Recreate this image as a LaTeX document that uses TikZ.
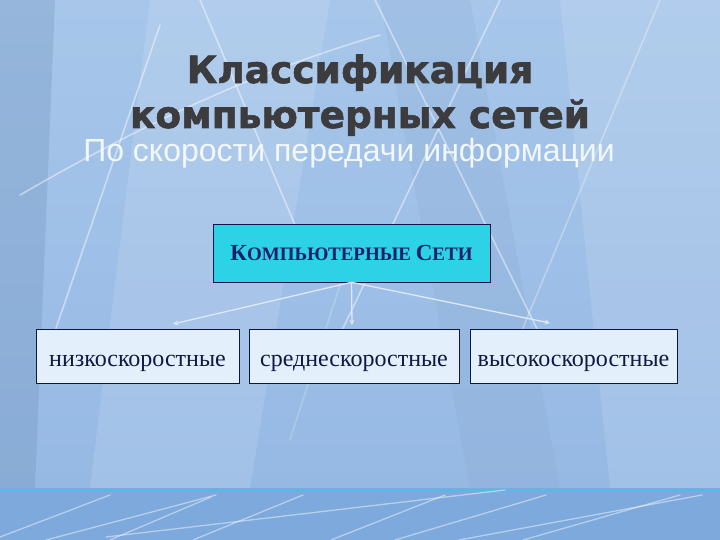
\documentclass[tikz,border=0pt]{standalone}
\usepackage{fontspec}
\setmainfont{Liberation Serif}
\newfontfamily\headfont[FakeBold=1.6]{DejaVu Sans Bold}
\newfontfamily\subheadfont{Liberation Sans}
\usepackage{tikz}
\usetikzlibrary{arrows}

\definecolor{slidetop}{HTML}{A7C6EA}
\definecolor{slidemid}{HTML}{96B9E4}
\definecolor{slideband}{HTML}{7DA9DC}
\definecolor{bandcyan}{HTML}{3CC8E6}
\definecolor{titlegray}{HTML}{3C3C3E}
\definecolor{subwhite}{HTML}{F2F7FC}
\definecolor{netcyan}{HTML}{2DD2E6}
\definecolor{netnavy}{HTML}{16206A}
\definecolor{boxline}{HTML}{0E1648}
\definecolor{boxfill}{HTML}{E3EFFB}
\definecolor{speedtext}{HTML}{111846}
\definecolor{arrowwhite}{HTML}{DDE9F6}

\begin{document}
\begin{tikzpicture}[
    x = 1pt, y = -1pt, % pixel grid of the slide
    > = stealth, % arrow head style
    semithick % line style
]

\tikzstyle{streak}=[white, opacity = .45, line width = 1.6pt, line cap = round]
\tikzstyle{panel}=[white, opacity = .12]
\tikzstyle{title text}=[text = titlegray, inner sep = 0pt, anchor = base,
    font = \headfont\fontsize{37.5}{40}\selectfont]
\tikzstyle{top box}=[
    draw = boxline,
    fill = netcyan,
    text = netnavy,
    minimum width = 277pt,
    minimum height = 58pt,
    inner sep = 0pt,
    font = \bfseries\fontsize{19}{22}\selectfont
]
\tikzstyle{speed box}=[
    draw = boxline,
    fill = boxfill,
    text = speedtext,
    line width = .9pt,
    minimum height = 54pt,
    inner sep = 0pt,
    text height = 20pt,
    text depth = 0pt,
    font = \fontsize{24}{27}\selectfont
]
\tikzstyle{link}=[->, draw = arrowwhite, line width = 1.3pt]

% background of the slide
\useasboundingbox (0,0) rectangle (720,540);
\shade[top color = slidetop, bottom color = slidemid] (0,0) rectangle (720,488);
\fill[slideband!80!black, opacity = .25] (0,0) -- (55,0) -- (35,488) -- (0,488) -- cycle;
\fill[panel] (150,0) -- (330,0) -- (250,488) -- (90,488) -- cycle;
\fill[panel] (560,0) -- (720,0) -- (720,488) -- (610,488) -- cycle;
\fill[slidemid!85!black, opacity = .15] (380,0) -- (470,0) -- (560,488) -- (470,488) -- cycle;
\draw[streak] (20,195) .. controls (150,120) and (260,70) .. (380,35);
\draw[streak] (52,340) -- (160,25);
\draw[streak] (200,0) -- (295,225);
\draw[streak] (375,0) -- (545,345);
\draw[streak] (500,0) -- (335,345);
\draw[streak, opacity = .3] (660,0) -- (520,335);
\draw[streak, opacity = .2] (340,285) -- (290,440);

% bottom band
\fill[slideband] (0,488) rectangle (720,540);
\draw[bandcyan, line width = 3pt, opacity = .7] (0,490) -- (720,490);
\foreach \xa/\ya/\xb/\yb in {0/537/110/495, 46/540/216/495, 110/540/211/497,
    193/540/303/495, 106/537/505/490, 331/540/445/495, 395/540/546/495,
    459/540/702/495, 523/540/680/495}
    \draw[streak, line width = 1.3pt] (\xa,\ya) -- (\xb,\yb);

% headings
\node[title text] (Title Top) at (360,83) {Классификация};
\node[title text] (Title Bottom) at (360,128) {компьютерных сетей};
\node[text = subwhite, inner sep = 0pt, anchor = base west,
    font = \subheadfont\fontsize{32}{35}\selectfont] (Subtitle) at (83,162)
    {По скорости передачи информации};

% diagram
\node[top box] (Computer Networks) at (351.5,253)
    {{\fontsize{23}{23}\selectfont К}ОМПЬЮТЕРНЫЕ {\fontsize{23}{23}\selectfont С}ЕТИ};
\node[speed box, minimum width = 203pt] (Low Speed) at (137.5,356) {низкоскоростные};
\node[speed box, minimum width = 210pt] (Medium Speed) at (354,356) {среднескоростные};
\node[speed box, minimum width = 207pt] (High Speed) at (573.5,356) {высокоскоростные};

\coordinate (Low Tip) at (173,324);
\coordinate (Medium Tip) at (352,325);
\coordinate (High Tip) at (550,323);

\draw[link] (Computer Networks.south) -- (Low Tip);
\draw[link] (Computer Networks.south) -- (Medium Tip);
\draw[link] (Computer Networks.south) -- (High Tip);

\end{tikzpicture}
\end{document}
